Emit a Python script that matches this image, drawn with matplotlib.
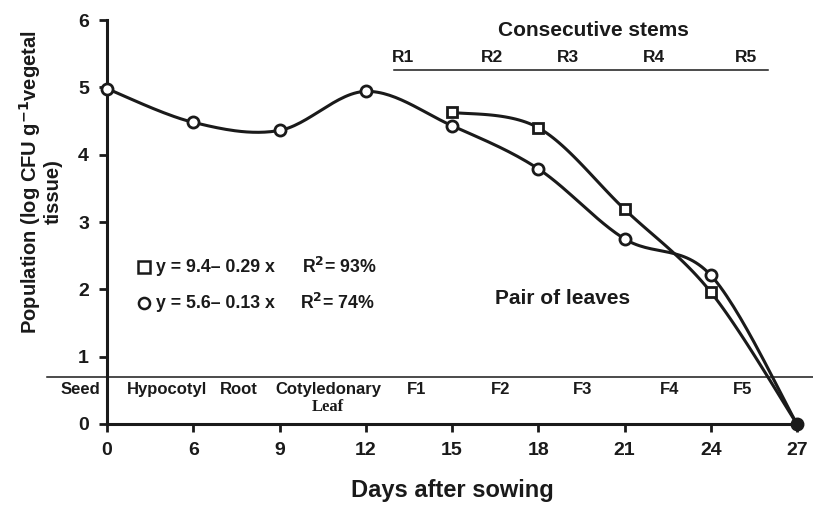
import numpy as np
import matplotlib
matplotlib.use('Agg')
import matplotlib.pyplot as plt

plt.rcParams['font.family'] = ['Liberation Sans', 'DejaVu Sans']
plt.rcParams['font.weight'] = 'bold'
plt.rcParams['mathtext.default'] = 'bf'

# data (days are equally spaced categories on the x axis)
days = ['0', '6', '9', '12', '15', '18', '21', '24', '27']
circle_vals = [4.98, 4.48, 4.36, 4.94, 4.43, 3.79, 2.75, 2.21, 0.0]
square_days = ['15', '18', '21', '24', '27']
square_vals = [4.63, 4.40, 3.19, 1.96, 0.0]

stages = ['Seed', 'Hypocotyl', 'Root', 'Cotyledonary', 'F1', 'F2', 'F3', 'F4', 'F5']
stems = ['R1', 'R2', 'R3', 'R4', 'R5']
eq_square = 'y = 9.4\u2013 0.29 x'
eq_circle = 'y = 5.6\u2013 0.13 x'
r2_square = 'R$^{2}$= 93%'
r2_circle = 'R$^{2}$= 74%'


def smooth(x, y, n=30):
    # excel-like smoothed line (bezier with catmull-rom control points)
    x = np.asarray(x, float)
    y = np.asarray(y, float)
    px = np.concatenate([[x[0]], x, [x[-1]]])
    py = np.concatenate([[y[0]], y, [y[-1]]])
    xs, ys = [], []
    t = np.linspace(0, 1, n)
    for i in range(1, len(px) - 2):
        p0 = np.array([px[i], py[i]])
        p3 = np.array([px[i + 1], py[i + 1]])
        p1 = p0 + (np.array([px[i + 1], py[i + 1]]) - np.array([px[i - 1], py[i - 1]])) / 6
        p2 = p3 - (np.array([px[i + 2], py[i + 2]]) - np.array([px[i], py[i]])) / 6
        b = ((1 - t) ** 3)[:, None] * p0 + (3 * (1 - t) ** 2 * t)[:, None] * p1 \
            + (3 * (1 - t) * t ** 2)[:, None] * p2 + (t ** 3)[:, None] * p3
        xs.extend(b[:, 0])
        ys.extend(b[:, 1])
    return np.array(xs), np.array(ys)


W, H = 813, 511
fig = plt.figure(figsize=(W / 100, H / 100), dpi=100)
ax = fig.add_axes([107 / W, 1 - 424 / H, (797 - 107) / W, (424 - 20) / H])

xc = np.arange(len(days))
xs_idx = np.array([days.index(d) for d in square_days])
ink = '#1a1a1a'

sx, sy = smooth(xc, circle_vals)
ax.plot(sx, sy, color=ink, lw=2.2, clip_on=False, zorder=3)
ax.plot(xc[:-1], circle_vals[:-1], 'o', ms=8, mfc='white', mec=ink, mew=2, clip_on=False, zorder=4)

qx, qy = smooth(xs_idx, square_vals)
ax.plot(qx, qy, color=ink, lw=2.2, clip_on=False, zorder=3)
ax.plot(xs_idx[:-1], square_vals[:-1], 's', ms=7.5, mfc='white', mec=ink, mew=2, clip_on=False, zorder=4)
ax.plot([xc[-1]], [circle_vals[-1]], 'o', ms=9, color=ink, clip_on=False, zorder=5)

ax.set_xlim(0, len(days) - 1)
ax.set_ylim(0, 6)
ax.set_xticks(xc)
ax.set_xticklabels(days)
ax.set_yticks(range(7))
for s in ['top', 'right']:
    ax.spines[s].set_visible(False)
for s in ['left', 'bottom']:
    ax.spines[s].set_linewidth(2.2)
    ax.spines[s].set_color(ink)
ax.tick_params(axis='both', direction='out', length=6, width=2, labelsize=14, colors=ink)
ax.tick_params(axis='x', pad=7)
ax.tick_params(axis='y', pad=7)
for lab in ax.get_xticklabels() + ax.get_yticklabels():
    lab.set_fontweight('bold')


def ft(x, y, s, **kw):
    fig.text(x / W, 1 - y / H, s, ha='center', va='center', color=ink, fontweight='bold', **kw)


# y label (two lines)
ft(30, 182, 'Population (log CFU g$^{-1}$vegetal', rotation=90, fontsize=14.5)
ft(53, 192, 'tissue)', rotation=90, fontsize=14.5)
ft(452, 490, 'Days after sowing', fontsize=17)

# stage line and labels
fig.add_artist(plt.Line2D([47 / W, 1.0], [1 - 377 / H] * 2, color=ink, lw=1.1))
stage_x = [80, 167, 239, 328, 417, 501, 583, 670, 743]
for s, x in zip(stages, stage_x):
    ft(x, 389, s, fontsize=12)
ft(328, 407, 'Leaf', fontsize=12, family=['Liberation Serif'])

# consecutive stems
ft(593, 30, 'Consecutive stems', fontsize=15)
stem_x = [403, 492, 568, 654, 746]
for s, x in zip(stems, stem_x):
    ft(x, 57, s, fontsize=12.5)
fig.add_artist(plt.Line2D([394 / W, 768 / W], [1 - 70 / H] * 2, color=ink, lw=1.1))

ft(563, 298, 'Pair of leaves', fontsize=15)

# regression equations
fig.add_artist(plt.Line2D([144 / W], [1 - 267 / H], marker='s', ms=8, mfc='white', mec=ink, mew=1.8))
fig.add_artist(plt.Line2D([144 / W], [1 - 303 / H], marker='o', ms=8, mfc='white', mec=ink, mew=1.8))
for txt, x, y in [(eq_square, 156, 267), (eq_circle, 156, 303), (r2_square, 302, 267), (r2_circle, 300, 303)]:
    fig.text(x / W, 1 - y / H, txt, ha='left', va='center', fontsize=12.8, fontweight='bold', color=ink)

fig.savefig('out.png', dpi=100)
